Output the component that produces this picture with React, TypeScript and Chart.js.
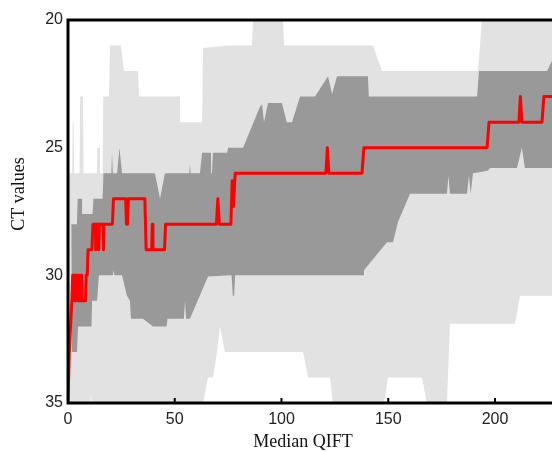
import React, { useEffect, useRef } from "react";
import { Chart, registerables } from "chart.js";
Chart.register(...registerables);

const X_MAX = 226.7;
const Y_MIN = 20;
const Y_MAX = 35;
const xTickValues = [0, 50, 100, 150, 200];
const xTitle = "Median QIFT";
const yTitle = "CT values";

// Outer (light grey) band, upper edge (lower CT)
const lightUpper: [number, number][] = [
  [0, 26], [2.0, 26], [2.2, 24], [2.6, 24], [2.9, 26], [5.4, 26], [5.7, 23], [7.0, 23], [7.3, 26],
  [13.5, 26], [13.7, 25], [15.0, 25], [15.3, 26], [16.2, 26], [16.5, 23], [19.2, 23], [19.7, 21],
  [24.8, 21], [26.2, 22], [32.8, 22], [33.3, 23], [52.5, 23], [52.9, 24], [62.8, 24], [63.3, 21.1],
  [74.5, 21], [86.2, 21], [86.6, 20], [100.7, 20], [101.2, 21], [142.9, 21], [147.0, 22], [192.0, 22],
  [193.0, 21], [193.8, 20], [226.7, 20],
];
// Outer (light grey) band, lower edge
const lightLower: [number, number][] = [
  [0, 35], [10.5, 35], [10.8, 34.6], [11.1, 35], [63.2, 35], [65.6, 34], [67.9, 34], [69.8, 33],
  [71.2, 32], [73.5, 33], [110.1, 33], [112.4, 34], [122.7, 34], [124.1, 35], [148.0, 35], [149.9, 34],
  [165.8, 34], [168.1, 35], [177.5, 35], [178.9, 31.9], [209.4, 31.9], [211.7, 30.8], [226.7, 30.8],
];
// Inner (dark grey) band, upper edge
const darkUpper: [number, number][] = [
  [1.5, 28], [4.2, 28], [4.5, 27], [6.6, 27], [7.0, 27.6], [11.5, 27.6], [11.9, 27], [16.2, 27],
  [16.6, 26], [20.3, 26], [20.6, 25.2], [21.0, 26], [23.0, 26], [24.1, 25], [25.3, 26], [40.7, 26],
  [43.1, 27], [45.4, 26], [56.8, 26], [57.1, 25.6], [57.4, 26], [61.8, 26], [62.8, 25.2], [67.0, 25.2],
  [67.4, 26], [67.9, 25.2], [74.5, 25.2], [75.0, 25], [82.0, 25], [89.9, 23.4], [90.9, 23.3],
  [91.8, 24], [93.7, 23.25], [100.2, 23.25], [102.5, 24], [104.9, 24], [108.7, 23], [115.7, 23],
  [121.8, 22.2], [123.7, 22.9], [126.0, 22.2], [140.5, 22.2], [140.9, 23], [191.6, 23], [192.5, 22],
  [224.4, 22], [226.7, 21.6],
];
// Inner (dark grey) band, lower edge
const darkLower: [number, number][] = [
  [1.5, 28], [1.9, 33], [4.2, 33], [4.7, 32], [11.0, 32], [11.3, 31], [13.6, 31], [14.5, 30],
  [21.0, 30], [21.4, 29.8], [21.8, 30], [25.3, 30], [27.6, 30.8], [29.0, 31], [29.5, 31.7],
  [35.1, 31.7], [39.8, 32], [46.2, 32], [46.6, 31.7], [54.3, 31.7], [54.8, 31], [55.3, 31.7],
  [57.1, 31.7], [65.6, 30.05], [76.6, 30], [77.2, 30.8], [77.8, 30.8], [78.3, 30], [138.2, 30],
  [138.6, 29.8], [149.4, 28.7], [152.2, 28.7], [154.6, 27.9], [160.2, 26.8], [177.5, 26.8],
  [178.2, 26.1], [178.9, 26.8], [186.9, 26.8], [187.8, 26.1], [188.6, 26.8], [189.7, 26],
  [196.7, 25.9], [197.7, 25.8], [210.3, 25.8], [212.6, 25], [214.0, 25.8], [226.7, 25.8],
];
// Median CT (red line)
const medianLine: [number, number][] = [
  [0, 35], [0.6, 33], [1.2, 32], [1.8, 31], [2.2, 30], [3.0, 30], [3.2, 31], [3.6, 31], [3.8, 30],
  [4.6, 30], [4.8, 31], [5.6, 31], [5.8, 30], [6.4, 30], [6.6, 31], [8.2, 31], [8.5, 30], [9.0, 30],
  [9.4, 29], [11.2, 29], [11.7, 28], [12.8, 28], [13.0, 29], [13.3, 28], [14.2, 28], [14.4, 29],
  [14.7, 28], [16.4, 28], [16.6, 29], [16.9, 28], [20.8, 28], [21.3, 27], [27.0, 27], [27.4, 28],
  [27.9, 28], [28.3, 27], [36.0, 27], [36.6, 29], [39.2, 29], [39.5, 28], [39.8, 29], [45.2, 29],
  [45.7, 28], [69.5, 28], [70.2, 27], [70.9, 28], [76.3, 28], [76.9, 26.3], [77.5, 27.3], [78.3, 26],
  [120.8, 26], [121.5, 25], [122.2, 26], [137.7, 26], [138.6, 25], [196.3, 25], [197.2, 24],
  [211.2, 24], [211.9, 23], [212.6, 24], [222.0, 24], [222.9, 23], [226.7, 23],
];

const LIGHT = "#e2e2e2";
const DARK = "#999999";
const RED = "#ff0000";

function pts(a: [number, number][]) {
  return a.map(([x, y]) => ({ x, y }));
}

export default function App() {
  const ref = useRef<HTMLCanvasElement>(null);
  useEffect(() => {
    document.body.style.margin = "0";
    const canvas = ref.current!;
    const framePlugin = {
      id: "frame",
      afterDraw(chart: any) {
        const { ctx, chartArea } = chart;
        const { left, top, right, bottom } = chartArea;
        const xs = chart.scales.x;
        ctx.save();
        ctx.strokeStyle = "#000";
        ctx.lineWidth = 3;
        ctx.beginPath();
        ctx.moveTo(right + 2, top);
        ctx.lineTo(left, top);
        ctx.lineTo(left, bottom);
        ctx.lineTo(right + 2, bottom);
        ctx.stroke();
        ctx.lineWidth = 2;
        for (const v of xTickValues) {
          const px = xs.getPixelForValue(v);
          ctx.beginPath();
          ctx.moveTo(px, bottom);
          ctx.lineTo(px, bottom - 5);
          ctx.stroke();
        }
        ctx.fillStyle = "#111";
        ctx.font = '18px "Liberation Serif"';
        ctx.textAlign = "center";
        ctx.textBaseline = "alphabetic";
        ctx.fillText(xTitle, 303, 447);
        ctx.translate(24, 194);
        ctx.rotate(-Math.PI / 2);
        ctx.fillText(yTitle, 0, 0);
        ctx.restore();
      },
    };
    const chart = new Chart(canvas, {
      type: "line",
      data: {
        datasets: [
          {
            label: "median",
            data: pts(medianLine),
            borderColor: RED,
            borderWidth: 3,
            pointRadius: 0,
            fill: false,
            order: 0,
            borderJoinStyle: "round",
          },
          {
            label: "darkUpper",
            data: pts(darkUpper),
            borderColor: "rgba(0,0,0,0)",
            borderWidth: 0,
            pointRadius: 0,
            fill: false,
            order: 1,
          },
          {
            label: "darkLower",
            data: pts(darkLower),
            borderColor: "rgba(0,0,0,0)",
            borderWidth: 0,
            pointRadius: 0,
            backgroundColor: DARK,
            fill: "-1",
            order: 1,
          },
          {
            label: "lightUpper",
            data: pts(lightUpper),
            borderColor: "rgba(0,0,0,0)",
            borderWidth: 0,
            pointRadius: 0,
            fill: false,
            order: 2,
          },
          {
            label: "lightLower",
            data: pts(lightLower),
            borderColor: "rgba(0,0,0,0)",
            borderWidth: 0,
            pointRadius: 0,
            backgroundColor: LIGHT,
            fill: "-1",
            order: 2,
          },
        ],
      },
      options: {
        animation: false,
        responsive: false,
        maintainAspectRatio: false,
        layout: { padding: { top: 20, right: 0, left: 0, bottom: 0 } },
        plugins: {
          legend: { display: false },
          tooltip: { enabled: false },
        },
        elements: { line: { tension: 0 } },
        scales: {
          x: {
            type: "linear",
            min: 0,
            max: X_MAX,
            afterBuildTicks(scale: any) {
              scale.ticks = xTickValues.map((v) => ({ value: v }));
            },
            ticks: {
              color: "#222",
              font: { family: "Liberation Sans", size: 16 },
              padding: 7,
              maxRotation: 0,
              autoSkip: false,
            },
            grid: { display: false, drawTicks: false },
            border: { display: false },
            afterFit(scale: any) {
              scale.height = 49;
            },
          },
          y: {
            type: "linear",
            reverse: true,
            min: Y_MIN,
            max: Y_MAX,
            ticks: {
              stepSize: 5,
              color: "#222",
              font: { family: "Liberation Sans", size: 16 },
              padding: 5,
            },
            grid: { display: false, drawTicks: false },
            border: { display: false },
            afterFit(scale: any) {
              scale.width = 68;
            },
          },
        },
      },
      plugins: [framePlugin],
    } as any);
    return () => chart.destroy();
  }, []);
  return (
    <canvas
      ref={ref}
      width={552}
      height={452}
      style={{ display: "block", width: 552, height: 452 }}
    />
  );
}
